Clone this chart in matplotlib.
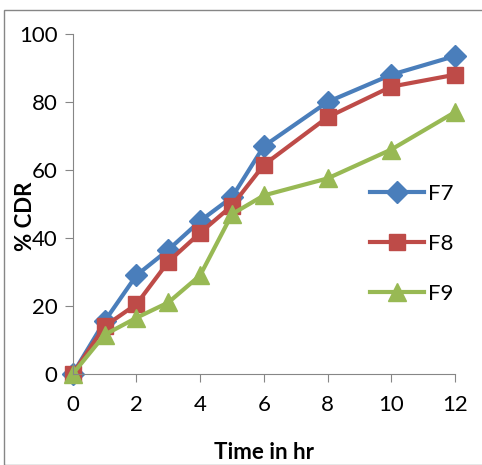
import numpy as np
import matplotlib
matplotlib.use("Agg")
import matplotlib.pyplot as plt
from matplotlib.patches import Rectangle

plt.rcParams['font.family'] = ['Lato', 'DejaVu Sans']

# Time points (hr)
time_hr = [0, 1, 2, 3, 4, 5, 6, 8, 10, 12]

# % CDR for each formulation
f7 = [0, 15.5, 29, 36.5, 45, 52, 67, 80, 88, 93.5]
f8 = [0, 14, 20.5, 33, 41.5, 49.5, 61.5, 75.5, 84.5, 88]
f9 = [0, 11.5, 16.5, 21, 29, 47, 52.5, 57.5, 66, 77]

xticks = [0, 2, 4, 6, 8, 10, 12]
yticks = [0, 20, 40, 60, 80, 100]

fig = plt.figure(figsize=(4.82, 4.65), dpi=100)
ax = fig.add_axes([0.151, 0.196, 0.793, 0.731])

ax.plot(time_hr, f7, color='#4A7EBB', lw=3, marker='D', ms=11, label='F7')
ax.plot(time_hr, f8, color='#BE4B48', lw=3, marker='s', ms=12, label='F8')
ax.plot(time_hr, f9, color='#98B954', lw=3, marker='^', ms=13, label='F9')

ax.set_xlim(0, 12)
ax.set_ylim(0, 100)
ax.set_xticks(xticks)
ax.set_yticks(yticks)
for s in ['top', 'right']:
    ax.spines[s].set_visible(False)
for s in ['left', 'bottom']:
    ax.spines[s].set_color('#868686')
ax.tick_params(axis='both', direction='out', length=6, color='#868686',
               labelsize=16, pad=5)
ax.tick_params(axis='x', pad=9)
for line in ax.get_lines():
    line.set_clip_on(False)

ax.set_xlabel('Time in hr', fontsize=16, fontweight='bold', labelpad=20)
fig.text(0.052, 0.535, '% CDR', rotation=90, fontsize=16, fontweight='bold',
         ha='center', va='center')

ax.legend(loc='upper left', bbox_to_anchor=(0.755, 0.585), frameon=False,
          fontsize=16, handlelength=2.4, labelspacing=1.35, handletextpad=0.2,
          borderaxespad=0)

fig.patches.append(Rectangle((0.008, 0.0), 1.2, 0.978, transform=fig.transFigure,
                             fill=False, edgecolor='#868686', lw=1))

fig.savefig('out.png', dpi=100)
